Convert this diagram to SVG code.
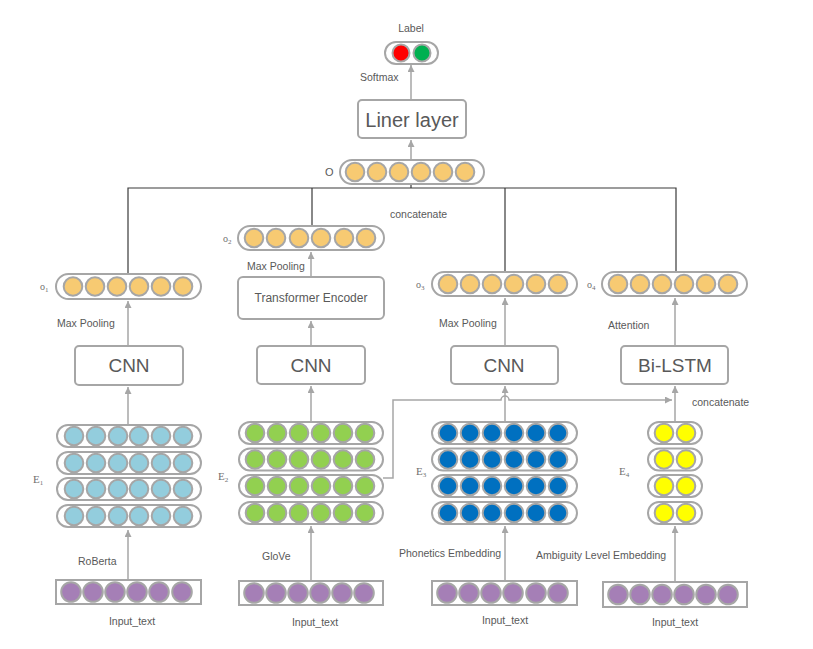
<svg xmlns="http://www.w3.org/2000/svg" width="813" height="649" viewBox="0 0 813 649">
<style>
.pill{fill:#fff;stroke:#a6a6a6;stroke-width:2}
.rect{fill:#fff;stroke:#a6a6a6;stroke-width:2}
.box{fill:#fff;stroke:#a6a6a6;stroke-width:2}
circle{stroke:#a6a6a6;stroke-width:2}
.or circle{fill:#f7ca72}
.lb circle{fill:#93cddd}
.gr circle{fill:#92d050}
.db circle{fill:#0070c0}
.ye circle{fill:#ffff00}
.pu circle{fill:#a57fb6}
.arr{fill:none;stroke:#a6a6a6;stroke-width:1.5;marker-end:url(#ah)}
.tree{fill:none;stroke:#3a3a3a;stroke-width:1.2}
text{font-family:"Liberation Sans",Arial,sans-serif;fill:#595959;font-size:10.5px}
.big{font-size:19px;text-anchor:middle}
.mid{text-anchor:middle}
.sub{font-family:"Liberation Serif","Times New Roman",serif;fill:#6f6f6f;font-size:10px}
</style>
<defs>
<marker id="ah" markerUnits="userSpaceOnUse" markerWidth="8" markerHeight="8" refX="7" refY="3.5" orient="auto">
<path d="M0,0 L7,3.5 L0,7 z" fill="#a6a6a6"/>
</marker>
</defs>

<g id="connectors">
<path class="tree" d="M128,274 V188 H676 V272 M312,188 V226 M411,184 V188 M505,188 V272"/>
<path class="arr" d="M128,580 V530"/>
<path class="arr" d="M311,581 V526"/>
<path class="arr" d="M505,581 V526"/>
<path class="arr" d="M675,582 V526"/>
<path class="arr" d="M128,425 V387"/>
<path class="arr" d="M311,422 V386"/>
<path class="arr" d="M505,422 V386"/>
<path class="arr" d="M675,422 V386"/>
<path class="arr" d="M383,478 H393 V400 H501 a4,4 0 0 1 8,0 H672"/>
<path class="arr" d="M128,346 V301"/>
<path class="arr" d="M311,346 V321"/>
<path class="arr" d="M311,277 V252"/>
<path class="arr" d="M505,346 V298"/>
<path class="arr" d="M675,346 V298"/>
<path class="arr" d="M411,160 V140"/>
<path class="arr" d="M411,100 V65"/>
</g>

<g id="label">
<text x="411" y="32" class="mid">Label</text>
<rect class="pill" x="385" y="42" width="53" height="22" rx="11"/>
<circle cx="401" cy="53" r="8.5" fill="#ff0000"/>
<circle cx="422" cy="53" r="8.5" fill="#00b050"/>
<text x="360" y="81">Softmax</text>
</g>

<g id="liner">
<rect class="box" x="358" y="100" width="108" height="38" rx="4"/>
<text x="412" y="127" class="big" style="font-size:20px">Liner layer</text>
</g>

<g id="O" class="or">
<text x="325" y="176" style="font-size:11px">O</text>
<rect class="pill" x="340" y="160" width="144" height="24" rx="12"/>
<circle cx="355" cy="172" r="9.3"/><circle cx="377" cy="172" r="9.3"/><circle cx="399" cy="172" r="9.3"/><circle cx="421" cy="172" r="9.3"/><circle cx="443" cy="172" r="9.3"/><circle cx="465" cy="172" r="9.3"/>
<text x="390" y="218">concatenate</text>
</g>

<g id="o1" class="or">
<text x="40" y="290" class="sub">o<tspan dy="2" font-size="7">1</tspan></text>
<rect class="pill" x="56" y="274" width="145" height="25" rx="12.5"/>
<circle cx="73" cy="286.5" r="9.3"/><circle cx="95" cy="286.5" r="9.3"/><circle cx="117" cy="286.5" r="9.3"/><circle cx="139" cy="286.5" r="9.3"/><circle cx="161" cy="286.5" r="9.3"/><circle cx="183" cy="286.5" r="9.3"/>
<text x="57" y="327">Max Pooling</text>
</g>

<g id="o2" class="or">
<text x="223" y="242" class="sub">o<tspan dy="2" font-size="7">2</tspan></text>
<rect class="pill" x="238" y="226" width="146" height="24" rx="12"/>
<circle cx="254" cy="238" r="9.3"/><circle cx="276" cy="238" r="9.3"/><circle cx="299" cy="238" r="9.3"/><circle cx="321" cy="238" r="9.3"/><circle cx="344" cy="238" r="9.3"/><circle cx="366" cy="238" r="9.3"/>
<text x="247" y="270">Max Pooling</text>
</g>

<g id="o3" class="or">
<text x="416" y="288" class="sub">o<tspan dy="2" font-size="7">3</tspan></text>
<rect class="pill" x="432" y="272" width="145" height="24" rx="12"/>
<circle cx="448" cy="284" r="9.3"/><circle cx="470" cy="284" r="9.3"/><circle cx="492" cy="284" r="9.3"/><circle cx="514" cy="284" r="9.3"/><circle cx="536" cy="284" r="9.3"/><circle cx="558" cy="284" r="9.3"/>
<text x="439" y="327">Max Pooling</text>
</g>

<g id="o4" class="or">
<text x="587" y="288" class="sub">o<tspan dy="2" font-size="7">4</tspan></text>
<rect class="pill" x="602" y="272" width="145" height="24" rx="12"/>
<circle cx="618" cy="284" r="9.3"/><circle cx="640" cy="284" r="9.3"/><circle cx="662" cy="284" r="9.3"/><circle cx="684" cy="284" r="9.3"/><circle cx="706" cy="284" r="9.3"/><circle cx="728" cy="284" r="9.3"/>
<text x="608" y="329">Attention</text>
</g>

<g id="transformer">
<rect class="box" x="238" y="277" width="146" height="42" rx="5"/>
<text x="311" y="302" class="mid" style="font-size:12px">Transformer Encoder</text>
</g>

<g id="cnn1"><rect class="box" x="75" y="346" width="108" height="39" rx="4"/><text x="129" y="372" class="big">CNN</text></g>
<g id="cnn2"><rect class="box" x="257" y="346" width="108" height="38" rx="4"/><text x="311" y="372" class="big">CNN</text></g>
<g id="cnn3"><rect class="box" x="451" y="346" width="107" height="38" rx="4"/><text x="504" y="372" class="big">CNN</text></g>
<g id="bilstm"><rect class="box" x="621" y="346" width="107" height="38" rx="4"/><text x="675" y="372" class="big">Bi-LSTM</text></g>
<text x="692" y="406">concatenate</text>

<g id="E1" class="lb">
<text x="33" y="483" class="sub" style="font-size:11px">E<tspan dy="2" font-size="7">1</tspan></text>
<rect class="pill" x="57" y="425" width="144" height="22" rx="11"/>
<rect class="pill" x="57" y="452" width="144" height="22" rx="11"/>
<rect class="pill" x="57" y="478" width="144" height="22" rx="11"/>
<rect class="pill" x="57" y="505" width="144" height="22" rx="11"/>
<circle cx="74" cy="436" r="9.3"/><circle cx="96" cy="436" r="9.3"/><circle cx="118" cy="436" r="9.3"/><circle cx="139" cy="436" r="9.3"/><circle cx="161" cy="436" r="9.3"/><circle cx="183" cy="436" r="9.3"/>
<circle cx="74" cy="463" r="9.3"/><circle cx="96" cy="463" r="9.3"/><circle cx="118" cy="463" r="9.3"/><circle cx="139" cy="463" r="9.3"/><circle cx="161" cy="463" r="9.3"/><circle cx="183" cy="463" r="9.3"/>
<circle cx="74" cy="489" r="9.3"/><circle cx="96" cy="489" r="9.3"/><circle cx="118" cy="489" r="9.3"/><circle cx="139" cy="489" r="9.3"/><circle cx="161" cy="489" r="9.3"/><circle cx="183" cy="489" r="9.3"/>
<circle cx="74" cy="516" r="9.3"/><circle cx="96" cy="516" r="9.3"/><circle cx="118" cy="516" r="9.3"/><circle cx="139" cy="516" r="9.3"/><circle cx="161" cy="516" r="9.3"/><circle cx="183" cy="516" r="9.3"/>
</g>

<g id="E2" class="gr">
<text x="218" y="480" class="sub" style="font-size:11px">E<tspan dy="2" font-size="7">2</tspan></text>
<rect class="pill" x="239" y="422" width="144" height="22" rx="11"/>
<rect class="pill" x="239" y="448.5" width="144" height="22" rx="11"/>
<rect class="pill" x="239" y="475" width="144" height="22" rx="11"/>
<rect class="pill" x="239" y="502" width="144" height="22" rx="11"/>
<circle cx="255" cy="433" r="9.3"/><circle cx="277" cy="433" r="9.3"/><circle cx="299" cy="433" r="9.3"/><circle cx="321" cy="433" r="9.3"/><circle cx="343" cy="433" r="9.3"/><circle cx="365" cy="433" r="9.3"/>
<circle cx="255" cy="459.5" r="9.3"/><circle cx="277" cy="459.5" r="9.3"/><circle cx="299" cy="459.5" r="9.3"/><circle cx="321" cy="459.5" r="9.3"/><circle cx="343" cy="459.5" r="9.3"/><circle cx="365" cy="459.5" r="9.3"/>
<circle cx="255" cy="486" r="9.3"/><circle cx="277" cy="486" r="9.3"/><circle cx="299" cy="486" r="9.3"/><circle cx="321" cy="486" r="9.3"/><circle cx="343" cy="486" r="9.3"/><circle cx="365" cy="486" r="9.3"/>
<circle cx="255" cy="513" r="9.3"/><circle cx="277" cy="513" r="9.3"/><circle cx="299" cy="513" r="9.3"/><circle cx="321" cy="513" r="9.3"/><circle cx="343" cy="513" r="9.3"/><circle cx="365" cy="513" r="9.3"/>
</g>

<g id="E3" class="db">
<text x="416" y="475" class="sub" style="font-size:11px">E<tspan dy="2" font-size="7">3</tspan></text>
<rect class="pill" x="432" y="422" width="145" height="22" rx="11"/>
<rect class="pill" x="432" y="448.5" width="145" height="22" rx="11"/>
<rect class="pill" x="432" y="475" width="145" height="22" rx="11"/>
<rect class="pill" x="432" y="502" width="145" height="22" rx="11"/>
<circle cx="448" cy="433" r="9.3"/><circle cx="470" cy="433" r="9.3"/><circle cx="492" cy="433" r="9.3"/><circle cx="514" cy="433" r="9.3"/><circle cx="536" cy="433" r="9.3"/><circle cx="558" cy="433" r="9.3"/>
<circle cx="448" cy="459.5" r="9.3"/><circle cx="470" cy="459.5" r="9.3"/><circle cx="492" cy="459.5" r="9.3"/><circle cx="514" cy="459.5" r="9.3"/><circle cx="536" cy="459.5" r="9.3"/><circle cx="558" cy="459.5" r="9.3"/>
<circle cx="448" cy="486" r="9.3"/><circle cx="470" cy="486" r="9.3"/><circle cx="492" cy="486" r="9.3"/><circle cx="514" cy="486" r="9.3"/><circle cx="536" cy="486" r="9.3"/><circle cx="558" cy="486" r="9.3"/>
<circle cx="448" cy="513" r="9.3"/><circle cx="470" cy="513" r="9.3"/><circle cx="492" cy="513" r="9.3"/><circle cx="514" cy="513" r="9.3"/><circle cx="536" cy="513" r="9.3"/><circle cx="558" cy="513" r="9.3"/>
</g>

<g id="E4" class="ye">
<text x="619" y="475" class="sub" style="font-size:11px">E<tspan dy="2" font-size="7">4</tspan></text>
<rect class="pill" x="648" y="422" width="54" height="22" rx="11"/>
<rect class="pill" x="648" y="448.5" width="54" height="22" rx="11"/>
<rect class="pill" x="648" y="475" width="54" height="22" rx="11"/>
<rect class="pill" x="648" y="502" width="54" height="22" rx="11"/>
<circle cx="664" cy="433" r="9.3"/><circle cx="686" cy="433" r="9.3"/>
<circle cx="664" cy="459.5" r="9.3"/><circle cx="686" cy="459.5" r="9.3"/>
<circle cx="664" cy="486" r="9.3"/><circle cx="686" cy="486" r="9.3"/>
<circle cx="664" cy="513" r="9.3"/><circle cx="686" cy="513" r="9.3"/>
</g>

<g id="input1" class="pu">
<text x="78" y="565">RoBerta</text>
<rect class="rect" x="56" y="580" width="145" height="24"/>
<circle cx="71" cy="592" r="9.8"/><circle cx="93" cy="592" r="9.8"/><circle cx="115" cy="592" r="9.8"/><circle cx="137" cy="592" r="9.8"/><circle cx="159" cy="592" r="9.8"/><circle cx="182" cy="592" r="9.8"/>
<text x="132" y="625" class="mid">Input_text</text>
</g>

<g id="input2" class="pu">
<text x="262" y="560">GloVe</text>
<rect class="rect" x="239" y="581" width="144" height="24"/>
<circle cx="254" cy="593" r="9.8"/><circle cx="276" cy="593" r="9.8"/><circle cx="298" cy="593" r="9.8"/><circle cx="320" cy="593" r="9.8"/><circle cx="342" cy="593" r="9.8"/><circle cx="364" cy="593" r="9.8"/>
<text x="315" y="626" class="mid">Input_text</text>
</g>

<g id="input3" class="pu">
<text x="399" y="557">Phonetics Embedding</text>
<rect class="rect" x="432" y="581" width="145" height="24"/>
<circle cx="447" cy="593" r="9.8"/><circle cx="469" cy="593" r="9.8"/><circle cx="491" cy="593" r="9.8"/><circle cx="513" cy="593" r="9.8"/><circle cx="536" cy="593" r="9.8"/><circle cx="558" cy="593" r="9.8"/>
<text x="505" y="624" class="mid">Input_text</text>
</g>

<g id="input4" class="pu">
<text x="536" y="559">Ambiguity Level Embedding</text>
<rect class="rect" x="603" y="582" width="144" height="25"/>
<circle cx="618" cy="594.5" r="9.8"/><circle cx="640" cy="594.5" r="9.8"/><circle cx="662" cy="594.5" r="9.8"/><circle cx="684" cy="594.5" r="9.8"/><circle cx="706" cy="594.5" r="9.8"/><circle cx="728" cy="594.5" r="9.8"/>
<text x="675" y="626" class="mid">Input_text</text>
</g>
</svg>
